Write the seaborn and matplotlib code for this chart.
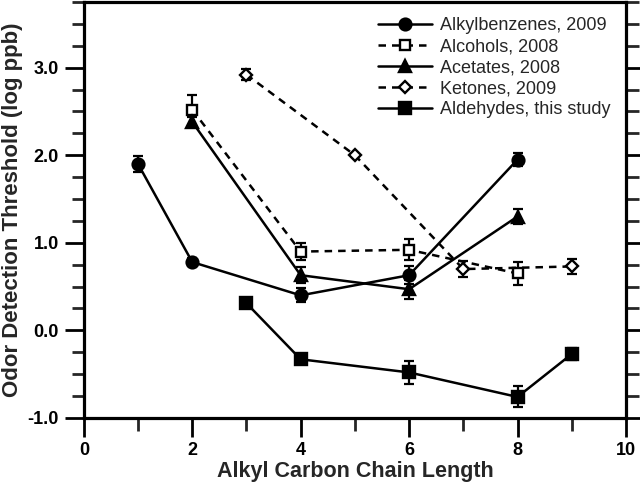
import matplotlib
matplotlib.use("Agg")
import matplotlib.pyplot as plt
import seaborn as sns
import pandas as pd
from matplotlib.ticker import MultipleLocator

sns.set_style("ticks")
plt.rcParams['font.family'] = ['Liberation Sans', 'DejaVu Sans']

# Data
alk_x = [1, 2, 4, 6, 8]
alk_y = [1.90, 0.78, 0.40, 0.63, 1.95]
alk_e = [0.09, 0.05, 0.08, 0.10, 0.07]

alc_x = [2, 4, 6, 8]
alc_y = [2.52, 0.90, 0.92, 0.65]
alc_e = [0.17, 0.10, 0.12, 0.13]

ace_x = [2, 4, 6, 8]
ace_y = [2.38, 0.63, 0.47, 1.30]
ace_e = [0.06, 0.09, 0.11, 0.09]

ket_x = [3, 5, 7, 9]
ket_y = [2.92, 2.00, 0.70, 0.73]
ket_e = [0.06, 0.0, 0.09, 0.09]

ald_x = [3, 4, 6, 8, 9]
ald_y = [0.31, -0.33, -0.48, -0.76, -0.27]
ald_e = [0.03, 0.04, 0.13, 0.12, 0.07]

labels = ["Alkylbenzenes, 2009", "Alcohols, 2008", "Acetates, 2008",
          "Ketones, 2009", "Aldehydes, this study"]

series = [
    (alk_x, alk_y, alk_e, 'o', '-', 'black', 8.5),
    (alc_x, alc_y, alc_e, 's', '--', 'white', 7.5),
    (ace_x, ace_y, ace_e, '^', '-', 'black', 9),
    (ket_x, ket_y, ket_e, 'D', '--', 'white', 6.5),
    (ald_x, ald_y, ald_e, 's', '-', 'black', 8),
]

fig = plt.figure(figsize=(6.4, 4.9), dpi=100)
ax = fig.add_axes([0.131, 0.147, 0.847, 0.849])

for (xs, ys, es, mk, ls, fc, ms), lab in zip(series, labels):
    df = pd.DataFrame({"x": xs, "y": ys})
    ax.errorbar(xs, ys, yerr=es, fmt='none', ecolor='black', elinewidth=1.6,
                capsize=3.5, capthick=1.6, zorder=2)
    sns.lineplot(data=df, x="x", y="y", ax=ax, color='black', linestyle=ls,
                 linewidth=1.8, marker=mk, markersize=ms,
                 markerfacecolor=fc, markeredgecolor='black',
                 markeredgewidth=1.7, label=lab, zorder=3, sort=False,
                 errorbar=None)
    line = ax.get_lines()[-1]
    if ls == '--':
        line.set_dashes((3, 2.4))

ax.set_xlim(0, 10)
ax.set_ylim(-1, 3.75)
ax.xaxis.set_minor_locator(MultipleLocator(1))
ax.yaxis.set_minor_locator(MultipleLocator(0.25))
ax.set_yticks([-1, 0, 1, 2, 3])
ax.set_yticklabels(["-1.0", "0.0", "1.0", "2.0", "3.0"])
ax.set_xticks([0, 2, 4, 6, 8, 10])
ax.set_xticklabels(["0", "2", "4", "6", "8", "10"])

for sp in ax.spines.values():
    sp.set_linewidth(2.3)
    sp.set_color('black')

ax.tick_params(axis='both', which='major', length=14, width=2, direction='out',
               labelsize=13, pad=4, colors='black')
ax.tick_params(axis='x', which='major', pad=3)
ax.tick_params(axis='both', which='minor', length=9, width=2, direction='out')
ax.tick_params(axis='y', which='both', right=True)
for t in ax.get_xticklabels() + ax.get_yticklabels():
    t.set_fontweight('bold')

ax.set_xlabel("Alkyl Carbon Chain Length", fontsize=15.5, fontweight='bold', labelpad=2)
ax.set_ylabel("Odor Detection Threshold (log ppb)", fontsize=16, fontweight='bold', labelpad=3)

leg = ax.legend(loc='upper left', frameon=False, fontsize=13, handlelength=3.0,
                labelspacing=0.22, handletextpad=0.45, borderpad=0,
                borderaxespad=0, bbox_to_anchor=(0.542, 0.963))

fig.savefig("out.png", dpi=100)
